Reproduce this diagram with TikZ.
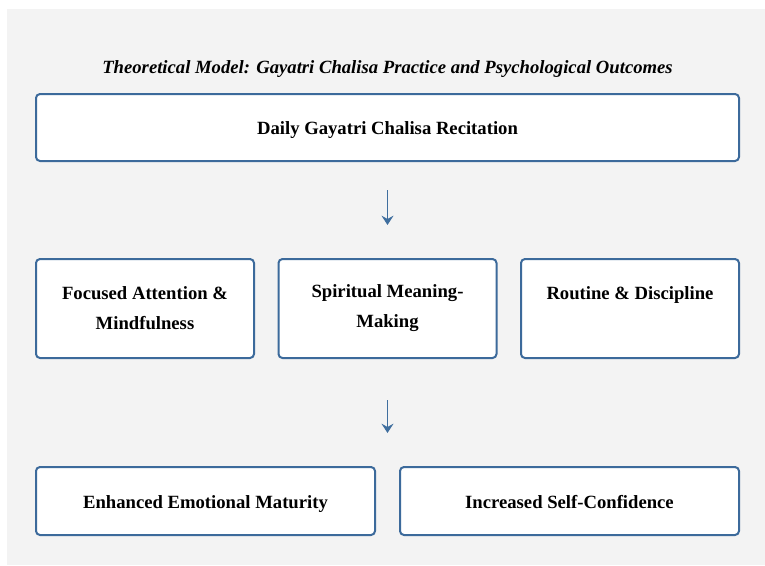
\documentclass[tikz,border=0pt]{standalone}
\usepackage{fontspec}
\setmainfont{Liberation Serif}
\usepackage{xcolor}
\usetikzlibrary{arrows.meta}
\definecolor{boxline}{HTML}{3C6A9B}
\definecolor{panel}{HTML}{F3F3F3}
\definecolor{arrowc}{HTML}{3F6E9E}

\begin{document}
\begin{tikzpicture}[x=0.75pt,y=-0.75pt]
\tikzset{stage/.style={draw=boxline, line width=1.5pt, rounded corners=3pt, fill=white,
    align=center, inner sep=0pt, font=\bfseries\fontsize{14}{22.5}\selectfont}}
\tikzset{oneline/.style={text height=12pt, text depth=1pt}}
\tikzset{flow/.style={draw=arrowc, line width=1.2pt, -{Stealth[length=7pt,width=9pt,inset=2.5pt]}}}
% page and panel
\fill [white] (0,0) rectangle (765,565);
\fill [panel] (7,9) rectangle (765,565);
\useasboundingbox (0,0) rectangle (765,565);
\node [oneline, inner sep=0pt] (title) at (387.5,66) {\bfseries\itshape\fontsize{14}{16}\selectfont Theoretical Model: Gayatri Chalisa Practice and Psychological Outcomes};
% practice
\node [stage, oneline, minimum width=527.25pt, minimum height=50.25pt] (recite) at (387.5,127.5) {Daily Gayatri Chalisa Recitation};
% mechanisms
\node [stage, minimum width=163.5pt, minimum height=74.25pt] (focus) at (145,308.5) {Focused Attention \&\\Mindfulness};
\node [stage, minimum width=163.5pt, minimum height=74.25pt] (meaning) at (387.5,308.5) {Spiritual Meaning-\\Making};
\node [stage, minimum width=163.5pt, minimum height=74.25pt] (routine) at (630,308.5) {Routine \& Discipline\\\mbox{}};
% outcomes
\node [stage, oneline, minimum width=254.25pt, minimum height=51pt] (maturity) at (205.5,501) {Enhanced Emotional Maturity};
\node [stage, oneline, minimum width=254.25pt, minimum height=51pt] (confidence) at (569.5,501) {Increased Self-Confidence};
% arrows
\coordinate (a1) at (387.5,190);
\coordinate (b1) at (387.5,225);
\coordinate (a2) at (387.5,400);
\coordinate (b2) at (387.5,433);
\draw [flow] (a1) -- (b1);
\draw [flow] (a2) -- (b2);
\end{tikzpicture}
\end{document}
